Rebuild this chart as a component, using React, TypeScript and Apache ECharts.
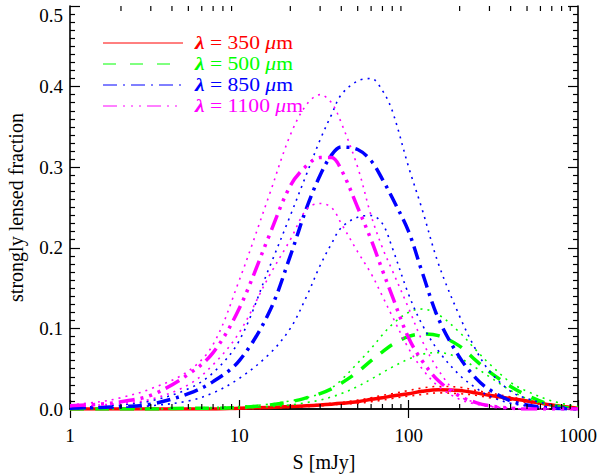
import React, { useEffect, useRef } from "react";
import * as echarts from "echarts";

// Flux densities (mJy) at which the curves are sampled
const S_MJY = [1, 1.5, 2, 3, 5, 7, 10, 15, 20, 25, 30, 35, 40, 50, 60, 70, 80, 100, 120, 150, 200, 250, 300, 400, 500, 700, 1000];

// lambda = 350 um
const RED_350_MAIN = [0, 0, 0, 0, 0, 0, 0.001, 0.002, 0.003, 0.004, 0.005, 0.006, 0.007, 0.009, 0.012, 0.014, 0.016, 0.019, 0.022, 0.024, 0.023, 0.02, 0.017, 0.013, 0.01, 0.005, 0.001];
const RED_350_HIGH = [0, 0, 0, 0, 0, 0, 0.001, 0.002, 0.003, 0.004, 0.006, 0.007, 0.008, 0.011, 0.014, 0.017, 0.019, 0.023, 0.026, 0.028, 0.027, 0.023, 0.02, 0.015, 0.011, 0.006, 0.001];
const RED_350_LOW = [0, 0, 0, 0, 0, 0, 0, 0.001, 0.002, 0.003, 0.004, 0.005, 0.006, 0.007, 0.009, 0.011, 0.013, 0.016, 0.018, 0.02, 0.019, 0.017, 0.014, 0.011, 0.008, 0.004, 0.001];

// lambda = 500 um
const GREEN_500_MAIN = [0, 0, 0, 0, 0.001, 0.001, 0.002, 0.005, 0.009, 0.014, 0.019, 0.025, 0.032, 0.046, 0.06, 0.071, 0.08, 0.09, 0.093, 0.091, 0.078, 0.06, 0.046, 0.028, 0.017, 0.005, 0];
const GREEN_500_HIGH = [0, 0, 0, 0, 0.001, 0.002, 0.003, 0.006, 0.01, 0.014, 0.019, 0.026, 0.036, 0.057, 0.075, 0.092, 0.105, 0.12, 0.124, 0.117, 0.095, 0.073, 0.056, 0.033, 0.022, 0.01, 0.003];
const GREEN_500_LOW = [0, 0, 0, 0, 0, 0, 0.001, 0.003, 0.005, 0.008, 0.011, 0.015, 0.019, 0.028, 0.037, 0.045, 0.052, 0.062, 0.068, 0.07, 0.063, 0.051, 0.04, 0.023, 0.013, 0.004, 0];

// lambda = 850 um
const BLUE_850_MAIN = [0.001, 0.002, 0.003, 0.006, 0.019, 0.034, 0.06, 0.12, 0.19, 0.25, 0.29, 0.315, 0.325, 0.322, 0.308, 0.285, 0.262, 0.22, 0.17, 0.112, 0.064, 0.038, 0.024, 0.01, 0.005, 0.001, 0];
const BLUE_850_HIGH = [0.001, 0.003, 0.005, 0.01, 0.025, 0.045, 0.085, 0.175, 0.24, 0.292, 0.334, 0.365, 0.39, 0.407, 0.41, 0.395, 0.37, 0.3, 0.248, 0.18, 0.115, 0.073, 0.047, 0.022, 0.013, 0.005, 0];
const BLUE_850_LOW = [0, 0.001, 0.002, 0.004, 0.01, 0.02, 0.038, 0.068, 0.1, 0.14, 0.178, 0.205, 0.225, 0.238, 0.24, 0.23, 0.2, 0.142, 0.105, 0.072, 0.042, 0.026, 0.016, 0.007, 0.004, 0.001, 0];

// lambda = 1100 um
const MAGENTA_1100_MAIN = [0.004, 0.006, 0.009, 0.017, 0.043, 0.07, 0.125, 0.215, 0.277, 0.302, 0.312, 0.312, 0.297, 0.25, 0.21, 0.172, 0.14, 0.088, 0.06, 0.035, 0.016, 0.008, 0.004, 0.001, 0, 0, 0];
const MAGENTA_1100_HIGH = [0.005, 0.009, 0.014, 0.025, 0.047, 0.08, 0.16, 0.265, 0.34, 0.378, 0.39, 0.38, 0.355, 0.3, 0.24, 0.2, 0.172, 0.125, 0.085, 0.048, 0.016, 0.008, 0.004, 0.001, 0, 0, 0];
const MAGENTA_1100_LOW = [0.003, 0.005, 0.007, 0.012, 0.03, 0.055, 0.095, 0.165, 0.21, 0.248, 0.255, 0.25, 0.23, 0.195, 0.168, 0.14, 0.115, 0.075, 0.05, 0.028, 0.012, 0.006, 0.003, 0.001, 0, 0, 0];

// Tick labels
const X_TICK_LABELS = ["1", "10", "100", "1000"];
const Y_TICK_LABELS = ["0.0", "0.1", "0.2", "0.3", "0.4", "0.5"];
const MINOR_DECADES = [1, 10, 100];
const MINOR_STEPS = [2, 3, 4, 5, 6, 7, 8, 9];

// Legend
const LEGEND_WAVELENGTHS = ["350", "500", "850", "1100"];

const FONT = "Liberation Serif";
const COLORS = ["#ff0000", "#00ff00", "#0000ff", "#ff00ff"];
const MAIN_DASH: (number[] | "solid")[] = [
  "solid",
  [14, 11],
  [14, 6, 3, 6],
  [16, 6, 3, 6, 3, 6, 3, 6],
];
const LEGEND_DASH: (number[] | null)[] = [
  null,
  [13, 14],
  [14, 6, 2, 6],
  [14, 6, 2, 6, 2, 6, 2, 6],
];
const DOT_DASH = [2, 5];

function lineSeries(values: number[], color: string, width: number, dash: number[] | "solid", z: number) {
  return {
    type: "line",
    data: S_MJY.map((s, i) => [s, values[i]]),
    showSymbol: false,
    symbol: "none",
    smooth: 0.35,
    silent: true,
    z,
    lineStyle: { color, width, type: dash, cap: "butt", join: "round" },
  };
}

export default function App() {
  const ref = useRef<HTMLDivElement>(null);

  useEffect(() => {
    if (!ref.current) return;
    const chart = echarts.init(ref.current, undefined, { renderer: "svg" });

    const groups = [
      [RED_350_MAIN, RED_350_HIGH, RED_350_LOW],
      [GREEN_500_MAIN, GREEN_500_HIGH, GREEN_500_LOW],
      [BLUE_850_MAIN, BLUE_850_HIGH, BLUE_850_LOW],
      [MAGENTA_1100_MAIN, MAGENTA_1100_HIGH, MAGENTA_1100_LOW],
    ];

    const series: any[] = [];
    groups.forEach((g, gi) => {
      series.push(lineSeries(g[1], COLORS[gi], 1.6, DOT_DASH, 2 + gi));
      series.push(lineSeries(g[2], COLORS[gi], 1.6, DOT_DASH, 2 + gi));
      series.push(lineSeries(g[0], COLORS[gi], 3.5, MAIN_DASH[gi], 2 + gi));
    });

    const minorX = MINOR_DECADES.flatMap((d) => MINOR_STEPS.map((m) => d * m));
    series.push({
      type: "custom",
      silent: true,
      clip: false,
      z: 10,
      data: minorX.map((v) => [v, 0]),
      encode: { x: 0, y: 1 },
      renderItem: (params: any, api: any) => {
        const x = api.coord([api.value(0), 0])[0];
        const cs = params.coordSys;
        const yb = cs.y + cs.height;
        const st = { stroke: "#000", lineWidth: 1.2 };
        return {
          type: "group",
          children: [
            { type: "line", shape: { x1: x, y1: yb, x2: x, y2: yb - 5 }, style: st },
            { type: "line", shape: { x1: x, y1: cs.y, x2: x, y2: cs.y + 5 }, style: st },
          ],
        };
      },
    });

    const axisLine = { show: true, lineStyle: { color: "#000", width: 1.6 } };
    const tickStyle = { color: "#000", width: 1.2 };

    const legendChildren: any[] = [];
    LEGEND_WAVELENGTHS.forEach((wl, i) => {
      const y = 43 + i * 21;
      const dash = LEGEND_DASH[i];
      legendChildren.push({
        type: "line",
        shape: { x1: 103, y1: y, x2: 183, y2: y },
        style: { stroke: COLORS[i], lineWidth: 1, lineDash: dash || undefined },
      });
      legendChildren.push({
        type: "text",
        x: 195,
        y,
        scaleX: 1.2,
        style: {
          text: `{l|λ}{t| = ${wl} }{u|μ}{t|m}`,
          verticalAlign: "middle",
          align: "left",
          fill: COLORS[i],
          fontFamily: FONT,
          fontSize: 18,
          rich: {
            l: { fontFamily: FONT, fontSize: 18, fontWeight: "bold", fontStyle: "italic", fill: COLORS[i] },
            t: { fontFamily: FONT, fontSize: 18, fill: COLORS[i] },
            u: { fontFamily: FONT, fontSize: 18, fontStyle: "italic", fill: COLORS[i] },
          },
        },
      });
    });

    const option: any = {
      animation: false,
      backgroundColor: "#fff",
      grid: { left: 70, right: 22, top: 6, bottom: 66, containLabel: false, outerBoundsMode: "none" },
      xAxis: [
        {
          type: "log",
          logBase: 10,
          min: 1,
          max: 1000,
          position: "bottom",
          name: "S [mJy]",
          nameLocation: "middle",
          nameGap: 43,
          nameTextStyle: { fontFamily: FONT, fontSize: 20, color: "#000" },
          axisLine,
          axisTick: { show: true, inside: true, length: 9, lineStyle: tickStyle },
          axisLabel: {
            margin: 17,
            fontFamily: FONT,
            fontSize: 19,
            color: "#000",
            formatter: (v: number) => X_TICK_LABELS[Math.round(Math.log10(v))] ?? "",
          },
          splitLine: { show: false },
        },
        {
          type: "log",
          logBase: 10,
          min: 1,
          max: 1000,
          position: "top",
          axisLine,
          axisTick: { show: true, inside: true, length: 9, lineStyle: tickStyle },
          axisLabel: { show: false },
          splitLine: { show: false },
        },
      ],
      yAxis: [
        {
          type: "value",
          min: 0,
          max: 0.5,
          interval: 0.1,
          position: "left",
          name: "strongly lensed fraction",
          nameLocation: "middle",
          nameGap: 44,
          nameTextStyle: { fontFamily: FONT, fontSize: 20, color: "#000" },
          axisLine,
          axisTick: { show: true, inside: true, length: 10, lineStyle: tickStyle },
          minorTick: { show: true, splitNumber: 10, length: 5, lineStyle: tickStyle },
          axisLabel: {
            margin: 7,
            fontFamily: FONT,
            fontSize: 19,
            color: "#000",
            formatter: (v: number) => {
              const i = Math.round(v * 10);
              const s = Y_TICK_LABELS[i] ?? "";
              return i === 5 ? `{top|${s}}` : s;
            },
            rich: { top: { fontFamily: FONT, fontSize: 19, color: "#000", padding: [18, 0, 0, 0] } },
          },
          splitLine: { show: false },
        },
        {
          type: "value",
          min: 0,
          max: 0.5,
          interval: 0.1,
          position: "right",
          axisLine,
          axisTick: { show: true, inside: true, length: 10, lineStyle: tickStyle },
          minorTick: { show: true, splitNumber: 10, length: 5, lineStyle: tickStyle },
          axisLabel: { show: false },
          splitLine: { show: false },
        },
      ],
      series,
      graphic: [{ type: "group", children: legendChildren }],
    };

    chart.setOption(option);
    return () => chart.dispose();
  }, []);

  return (
    <div
      ref={ref}
      style={{ position: "fixed", left: 0, top: 0, width: 600, height: 475, background: "#fff" }}
    />
  );
}
